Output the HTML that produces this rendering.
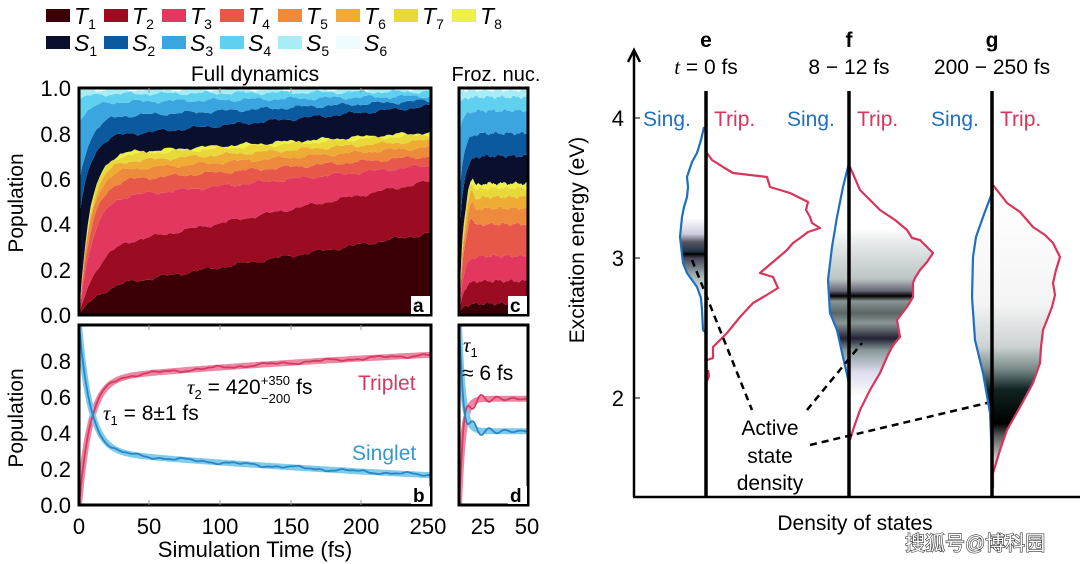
<!DOCTYPE html>
<html><head><meta charset="utf-8"><style>
html,body{margin:0;padding:0;background:#fff;}
svg{display:block;font-family:"Liberation Sans","Noto Sans CJK SC",sans-serif;}
</style></head><body>
<svg id="s" width="1080" height="564" viewBox="0 0 1080 564" xmlns="http://www.w3.org/2000/svg">
<defs>
<clipPath id="ca"><rect x="79" y="88" width="352" height="227"/></clipPath>
<clipPath id="cc"><rect x="459" y="88" width="69" height="227"/></clipPath>
<clipPath id="cb"><rect x="79" y="325" width="352" height="180"/></clipPath>
<clipPath id="cd"><rect x="459" y="325" width="69" height="180"/></clipPath>
<linearGradient id="ge" x1="0" y1="0" x2="0" y2="1">
<stop offset="0" stop-color="#fff"/><stop offset="0.2" stop-color="#ccd"/><stop offset="0.3" stop-color="#556"/><stop offset="0.42" stop-color="#234"/><stop offset="0.45" stop-color="#000"/><stop offset="0.5" stop-color="#445"/><stop offset="0.7" stop-color="#9aa"/><stop offset="1" stop-color="#fff"/></linearGradient>
<linearGradient id="gf" x1="0" y1="0" x2="0" y2="1">
<stop offset="0" stop-color="#fff"/><stop offset="0.1" stop-color="#e4e8e8"/><stop offset="0.3" stop-color="#bcc4c4"/><stop offset="0.37" stop-color="#667"/><stop offset="0.4" stop-color="#000"/><stop offset="0.43" stop-color="#8a9595"/><stop offset="0.5" stop-color="#5a6666"/><stop offset="0.56" stop-color="#8a9595"/><stop offset="0.65" stop-color="#223"/><stop offset="0.72" stop-color="#899"/><stop offset="0.85" stop-color="#dde"/><stop offset="1" stop-color="#fff"/></linearGradient>
<linearGradient id="gg" x1="0" y1="0" x2="0" y2="1">
<stop offset="0" stop-color="#fff"/><stop offset="0.4" stop-color="#f4f4f4"/><stop offset="0.55" stop-color="#ccd2d2"/><stop offset="0.63" stop-color="#788"/><stop offset="0.7" stop-color="#122"/><stop offset="0.82" stop-color="#000"/><stop offset="0.86" stop-color="#555"/><stop offset="0.94" stop-color="#ccc"/><stop offset="1" stop-color="#fff"/></linearGradient>
</defs>
<g id="areaA" clip-path="url(#ca)"></g>
<g id="areaC" clip-path="url(#cc)"></g>
<g id="lineB" clip-path="url(#cb)"></g>
<g id="lineD" clip-path="url(#cd)"></g>
<g fill="none" stroke="#000" stroke-width="3">
<rect x="79" y="88" width="352" height="227"/>
<rect x="459" y="88" width="69" height="227"/>
<rect x="79" y="325" width="352" height="180"/>
<rect x="459" y="325" width="69" height="180"/>
</g>
<g stroke="#999" stroke-width="1">
<path d="M149 88v5M220 88v5M291 88v5M361 88v5M149 505v-5M220 505v-5M291 505v-5M361 505v-5M149 325v5M220 325v5M291 325v5M361 325v5"/>
</g>
<g font-weight="bold" font-size="19">
<rect x="411" y="296" width="19" height="18" fill="#fff"/><text x="413" y="312">a</text>
<rect x="508" y="296" width="19" height="18" fill="#fff"/><text x="510" y="312">c</text>
<rect x="411" y="486" width="19" height="18" fill="#fff"/><text x="413" y="502">b</text>
<rect x="508" y="486" width="19" height="18" fill="#fff"/><text x="510" y="502">d</text>
</g>
<g id="legend" font-size="23" font-style="italic"></g>
<text x="255" y="81" font-size="21" text-anchor="middle">Full dynamics</text>
<text x="496" y="81" font-size="20" text-anchor="middle">Froz. nuc.</text>
<g font-size="22" text-anchor="end">
<text x="71" y="96">1.0</text><text x="71" y="142">0.8</text><text x="71" y="187">0.6</text><text x="71" y="232">0.4</text><text x="71" y="278">0.2</text><text x="71" y="323">0.0</text>
<text x="71" y="369">0.8</text><text x="71" y="405">0.6</text><text x="71" y="441">0.4</text><text x="71" y="477">0.2</text><text x="71" y="513">0.0</text>
</g>
<g font-size="22" text-anchor="middle">
<text x="79" y="534">0</text><text x="149" y="534">50</text><text x="220" y="534">100</text><text x="291" y="534">150</text><text x="361" y="534">200</text><text x="428" y="534">250</text>
<text x="483" y="534">25</text><text x="527" y="534">50</text>
<text x="255" y="557">Simulation Time (fs)</text>
</g>
<text transform="translate(23,203) rotate(-90)" font-size="21" text-anchor="middle">Population</text>
<text transform="translate(23,418) rotate(-90)" font-size="21" text-anchor="middle">Population</text>
<text x="103" y="420" font-size="21"><tspan font-style="italic" font-family="Liberation Serif">τ</tspan><tspan font-size="13" dy="5">1</tspan><tspan dy="-5"> = 8±1 fs</tspan></text>
<text x="187" y="394" font-size="21"><tspan font-style="italic" font-family="Liberation Serif">τ</tspan><tspan font-size="13" dy="5">2</tspan><tspan dy="-5"> = 420</tspan><tspan font-size="13" dy="-9">+350</tspan><tspan font-size="13" dx="-29" dy="18">−200</tspan><tspan dy="-9"> fs</tspan></text>
<text x="358" y="390" font-size="21" fill="#d63a60">Triplet</text>
<text x="352" y="460" font-size="21" fill="#3a96cc">Singlet</text>
<text x="463" y="352" font-size="21"><tspan font-style="italic" font-family="Liberation Serif">τ</tspan><tspan font-size="13" dy="5">1</tspan></text>
<text x="462" y="380" font-size="21">≈ 6 fs</text>

<g id="right">
<clipPath id="cle"><polygon points="704,127 697,153 687,177 687,197 682,217 680,237 683,263 687,273 697,287 702,310 703,330 706,333 706,127"/></clipPath>
<rect x="678" y="218" width="28" height="80" fill="url(#ge)" clip-path="url(#cle)"/>
<clipPath id="clf"><polygon points="849,163 843,187 837,217 832,247 828,280 830,313 837,330 843,357 849,383 850,440 853,430 860,410 870,390 880,373 887,357 900,337 897,320 907,307 913,297 913,283 920,270 933,253 920,240 907,230 880,210 860,190 850,167"/></clipPath>
<rect x="825" y="228" width="110" height="170" fill="url(#gf)" clip-path="url(#clf)"/>
<clipPath id="clg"><polygon points="992,193 983,217 973,257 972,297 975,340 983,373 990,413 992,457 993,473 1000,450 1007,430 1020,407 1033,383 1040,363 1043,330 1052,307 1053,283 1060,257 1053,243 1033,227 1007,203 993,185"/></clipPath>
<rect x="970" y="190" width="92" height="285" fill="url(#gg)" clip-path="url(#clg)"/>
<g fill="none" stroke-width="2.2" stroke-linejoin="round">
<polyline stroke="#d9345a" points="707,153 712,160 723,167 733,173 767,177 770,187 790,193 808,202 806,210 810,217 812,223 820,228 808,232 800,238 793,243 787,250 780,256 767,267 760,273 773,277 778,288 765,296 753,303 740,317 727,333 713,347 713,358 707,360"/>
<polyline stroke="#d9345a" points="708,370 709,376 707,381"/>
<polyline stroke="#1f6fbf" points="704,127 701,140 697,153 692,162 687,177 688,187 687,197 684,207 682,217 681,227 680,237 683,263 687,273 697,287 701,298 702,310 703,330 706,333"/>
<polyline stroke="#d9345a" points="850,167 860,190 880,210 895,220 907,230 912,238 920,240 927,247 933,253 927,262 920,270 915,278 913,283 913,297 907,307 897,320 900,337 893,345 887,357 880,373 870,390 860,410 853,430 850,440"/>
<polyline stroke="#1f6fbf" points="849,163 843,187 837,217 832,247 828,280 830,313 837,330 843,357 849,383"/>
<polyline stroke="#d9345a" points="993,185 1007,203 1020,212 1033,227 1045,235 1053,243 1060,257 1056,270 1053,283 1055,295 1052,307 1047,320 1043,330 1041,347 1040,363 1033,383 1020,407 1007,430 1000,450 993,473 993,488"/>
<polyline stroke="#1f6fbf" points="992,193 983,217 976,237 973,257 972,297 975,340 983,373 990,413 992,457"/>
</g>
<g stroke="#000" stroke-width="3.5">
<line x1="706" y1="91" x2="706" y2="498"/>
<line x1="849" y1="91" x2="849" y2="498"/>
<line x1="992" y1="91" x2="992" y2="498"/>
</g>
<g stroke="#000" stroke-width="2.5" fill="none">
<line x1="634" y1="52" x2="634" y2="497"/>
<line x1="633" y1="497" x2="1080" y2="497"/>
<path d="M628 62 L634 50 L640 62"/>
</g>
<g stroke="#000" stroke-width="1"><path d="M634 118h6M634 258h6M634 398h6"/></g>
<g stroke="#000" stroke-width="2.5" stroke-dasharray="7,5">
<line x1="692" y1="260" x2="752" y2="410"/>
<line x1="807" y1="410" x2="862" y2="343"/>
<line x1="810" y1="445" x2="987" y2="403"/>
</g>
<g font-size="21" text-anchor="middle">
<text x="770" y="435">Active</text><text x="770" y="463">state</text><text x="770" y="490">density</text>
<text x="855" y="530">Density of states</text>
<text x="706" y="47" font-weight="bold">e</text>
<text x="849" y="47" font-weight="bold">f</text>
<text x="992" y="47" font-weight="bold">g</text>
<text x="706" y="74"><tspan font-style="italic" font-family="Liberation Serif">t</tspan> = 0 fs</text>
<text x="849" y="74">8 − 12 fs</text>
<text x="992" y="74">200 − 250 fs</text>
</g>
<g font-size="21">
<text x="643" y="126" fill="#1f6fbf">Sing.</text><text x="714" y="126" fill="#d9345a">Trip.</text>
<text x="787" y="126" fill="#1f6fbf">Sing.</text><text x="857" y="126" fill="#d9345a">Trip.</text>
<text x="931" y="126" fill="#1f6fbf">Sing.</text><text x="1000" y="126" fill="#d9345a">Trip.</text>
</g>
<g font-size="22" text-anchor="end">
<text x="624" y="126">4</text><text x="624" y="266">3</text><text x="624" y="406">2</text>
</g>
<text transform="translate(584,240) rotate(-90)" font-size="21" text-anchor="middle">Excitation energy (eV)</text>
<text x="905" y="550" font-size="20" fill="#fff" stroke="#333" stroke-width="1.2" paint-order="stroke">搜狐号@博科园</text>
</g>
</svg>
<script>
var NS="http://www.w3.org/2000/svg";
function el(p,t,a){var e=document.createElementNS(NS,t);for(var k in a)e.setAttribute(k,a[k]);p.appendChild(e);return e;}
function nz(t,k){return Math.sin(t*0.37+k*1.7)*0.5+Math.sin(t*0.91+k*2.3)*0.3+Math.sin(t*1.9+k*0.7)*0.2;}
var colors=["#3a0005","#9b0c22","#e2375e","#e8584a","#ee8a3c","#eeac35","#e8d83a","#eef04a","#0a0f2e","#0b5aa0","#3ba5e0","#5fd0f0","#a8ecf5","#eefcff"];
var BA=[[0,0.15,0.36,20],[0,0.33,0.59,15],[0,0.53,0.66,10],[0,0.60,0.70,9],[0,0.645,0.74,8],[0,0.68,0.77,8],[0,0.71,0.795,8],[0,0.72,0.805,8],[0.42,0.80,0.92,8],[0.58,0.88,0.945,8],[0.85,0.94,0.965,8],[0.95,0.975,0.985,8],[0.99,0.993,0.995,8]];
function val(b,t,T){var r=b[0]+(b[1]-b[0])*(1-Math.exp(-t/b[3]))/(1-Math.exp(-40/b[3]));if(t>40)r=b[1]+(b[2]-b[1])*(t-40)/(T-40);return r;}
function stack(g,B,T,x0,w,y0,h,amp){
 var N=120,prev=[];for(var i=0;i<=N;i++)prev.push(0);
 for(var k=0;k<=B.length;k++){
  var cur=[];
  for(var i=0;i<=N;i++){var t=i/N*T;var v=k<B.length?val(B[k],t,T)+amp*nz(i*1.3,k)*Math.min(1,t/5):1;
   if(v<prev[i])v=prev[i];cur.push(v);}
  var d="";
  for(var i=0;i<=N;i++)d+=(i?"L":"M")+(x0+i/N*w).toFixed(1)+" "+(y0-cur[i]*h).toFixed(1);
  for(var i=N;i>=0;i--)d+="L"+(x0+i/N*w).toFixed(1)+" "+(y0-prev[i]*h).toFixed(1);
  el(g,"path",{d:d+"Z",fill:colors[k]});
  prev=cur;
 }
}
stack(document.getElementById("areaA"),BA,250,79,352,315,227,0.012);
var BC=[[0,0.05,0.04,3],[0,0.15,0.13,3],[0,0.26,0.25,3],[0,0.40,0.40,3],[0,0.47,0.47,3],[0,0.52,0.51,3],[0,0.56,0.55,3],[0,0.58,0.57,3],[0.3,0.70,0.70,3],[0.5,0.80,0.79,3],[0.8,0.90,0.90,3],[0.93,0.96,0.96,3],[0.99,0.99,0.99,3]];
function valc(b,t){return b[0]+(b[1]-b[0])*(1-Math.exp(-t/b[3]))+(t>5&&t<12?0.05*Math.sin((t-5)/7*Math.PI)*(b[1]>0.3&&b[1]<0.7?1:0):0);}
(function(){var g=document.getElementById("areaC");var N=60,prev=[];for(var i=0;i<=N;i++)prev.push(0);
 for(var k=0;k<=BC.length;k++){var cur=[];for(var i=0;i<=N;i++){var t=i/N*50;var v=k<BC.length?valc(BC[k],t)+0.01*nz(i*1.5,k)*Math.min(1,t/3):1;if(v<prev[i])v=prev[i];cur.push(v);}
 var d="";for(var i=0;i<=N;i++)d+=(i?"L":"M")+(459+i/N*69).toFixed(1)+" "+(315-cur[i]*227).toFixed(1);
 for(var i=N;i>=0;i--)d+="L"+(459+i/N*69).toFixed(1)+" "+(315-prev[i]*227).toFixed(1);
 el(g,"path",{d:d+"Z",fill:colors[k]});prev=cur;}})();
(function(){var g=document.getElementById("lineB");
 function T(t){return 0.70*(1-Math.exp(-t/8))+0.3*(1-Math.exp(-t/420));}
 function pth(f,noise,N){var d="";for(var i=0;i<=N;i++){var t=i/N*250;var v=f(t)+noise*nz(i*0.9,3)*Math.min(1,t/20);d+=(i?"L":"M")+(79+t*352/250).toFixed(1)+" "+(505-v*180).toFixed(1);}return d;}
 el(g,"path",{d:pth(T,0,200),stroke:"#ec86a3",fill:"none","stroke-width":6});
 el(g,"path",{d:pth(function(t){return 1-T(t);},0,200),stroke:"#7fcbea",fill:"none","stroke-width":6});
 el(g,"path",{d:pth(T,0.012,120),stroke:"#d63a60",fill:"none","stroke-width":1.8});
 el(g,"path",{d:pth(function(t){return 1-T(t);},-0.012,120),stroke:"#2a86c8",fill:"none","stroke-width":1.8});
 var gd=document.getElementById("lineD");
 function Td(t){return 0.59*(1-Math.exp(-t/3));}
 function pd(f,osc,N){var d="";for(var i=0;i<=N;i++){var t=i/N*50;var v=f(t)+osc*Math.exp(-t/15)*Math.sin((t-2)*0.55)*(t>2?1:t/2);d+=(i?"L":"M")+(459+t*69/50).toFixed(1)+" "+(505-v*180).toFixed(1);}return d;}
 el(gd,"path",{d:pd(Td,0,100),stroke:"#ec86a3",fill:"none","stroke-width":6});
 el(gd,"path",{d:pd(function(t){return 1-Td(t);},0,100),stroke:"#7fcbea",fill:"none","stroke-width":6});
 el(gd,"path",{d:pd(Td,0.07,100),stroke:"#d63a60",fill:"none","stroke-width":1.8});
 el(gd,"path",{d:pd(function(t){return 1-Td(t);},-0.07,100),stroke:"#2a86c8",fill:"none","stroke-width":1.8});
})();
(function(){var g=document.getElementById("legend");
 for(var k=0;k<14;k++){var row=k<8?0:1,c=k<8?k:k-8;var x=46+c*58,y=row?36:9;
  el(g,"rect",{x:x,y:y,width:24,height:13,fill:colors[k]});
  var t=el(g,"text",{x:x+28,y:y+15});t.textContent=(row?"S":"T");
  var s=el(t,"tspan",{"font-size":"14","font-style":"normal",dy:"5"});s.textContent=String(c+1);}
})();
</script>
</body></html>
